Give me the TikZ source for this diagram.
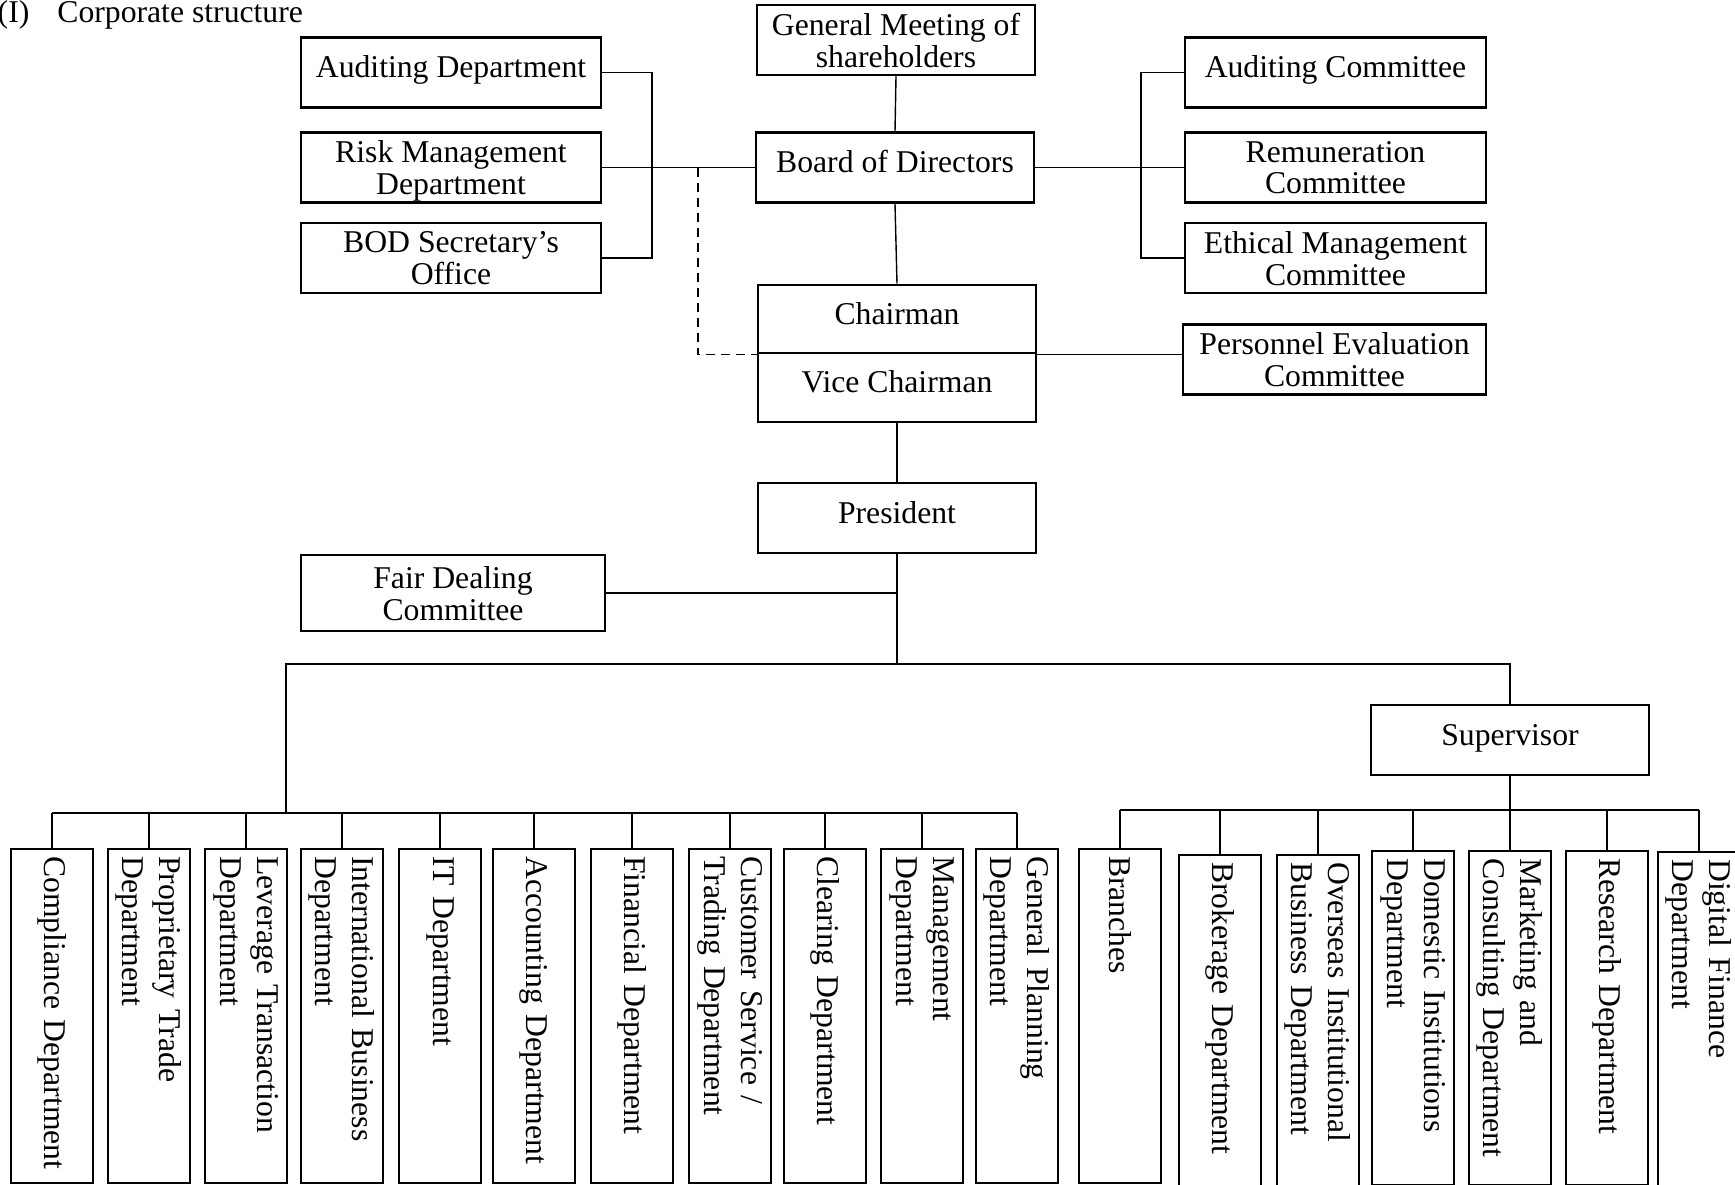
\documentclass[tikz,border=0pt]{standalone}
\usepackage{fontspec}
\setmainfont{Liberation Serif}
\usepackage{tikz}
\usetikzlibrary{positioning}

\newcommand{\orgfont}{\fontsize{31.7}{32}\selectfont}
\newcommand{\deptfont}{\fontsize{31.7}{37}\selectfont}

\begin{document}
\begin{tikzpicture}[
  x=1pt, y=-1pt,
  line width=1.4pt,
  cell/.style={draw, line width=2.4pt, align=center, font=\orgfont,
    inner xsep=6pt, inner ysep=2pt, minimum height=70pt},
  oneline/.style={cell, text height=22pt, text depth=11.5pt},
  twoline/.style={cell, text depth=0pt},
  mid/.style={minimum width=278pt},
  side/.style={minimum width=300pt},
  dept/.style={draw, line width=2.4pt, rotate=-90, anchor=west,
    font=\deptfont, minimum width=334pt, minimum height=82pt,
    text width=320pt, align=left, inner xsep=7pt, inner ysep=2pt}
]
\path[use as bounding box, clip] (0,0) rectangle (1735,1184);

% Title
\node[anchor=base west, inner sep=0pt, font=\orgfont] (title) at (-3,22)
  {(I)\hspace{28pt}Corporate structure};

% Main column
\node[twoline, mid] (gm) at (896,40) {General Meeting of\\shareholders};
\node[oneline, mid] (bod) at (895,167.5) {Board of Directors};
\node[oneline, mid, minimum height=68.5pt] (chair) at (897,319) {Chairman};
\node[oneline, mid, minimum height=68.5pt] (vice) at (897,387.5) {Vice Chairman};
\node[oneline, mid] (pres) at (897,518) {President};

% Offices under the board (left)
\node[oneline, side] (audit) at (451,72.5) {Auditing Department};
\node[twoline, side] (risk) at (451,167.5) {Risk Management\\Department};
\node[twoline, side] (secr) at (451,258) {BOD Secretary’s\\Office};

% Committees (right)
\node[oneline, side, minimum width=301pt] (acom) at (1335.5,72.5) {Auditing Committee};
\node[twoline, side, minimum width=301pt] (rcom) at (1335.5,167.5) {Remuneration\\Committee};
\node[twoline, side, minimum width=301pt] (ecom) at (1335.5,258) {Ethical Management\\Committee};
\node[twoline, side, minimum width=303pt] (pcom) at (1334.5,359.5) {Personnel Evaluation\\Committee};

% Under the president
\node[twoline, side, minimum width=304pt, minimum height=76pt] (fair) at (453,593) {Fair Dealing\\Committee};
\node[oneline, mid] (sup) at (1510,740) {Supervisor};

% Departments under the president
\node[dept] (compl) at (52,848) {Compliance Department};
\node[dept] (prop) at (149,848) {Proprietary Trade\\Department};
\node[dept] (lever) at (246,848) {Leverage Transaction\\Department};
\node[dept] (intl) at (342,848) {International Business\\Department};
\node[dept] (it) at (440,848) {IT Department};
\node[dept] (acct) at (534,848) {Accounting Department};
\node[dept] (fin) at (632,848) {Financial Department};
\node[dept] (cust) at (730,848) {Customer Service /\\Trading Department};
\node[dept] (clear) at (825,848) {Clearing Department};
\node[dept] (mgmt) at (922,848) {Management\\Department};
\node[dept] (plan) at (1017,848) {General Planning\\Department};

% Departments under the supervisor
\node[dept] (branch) at (1120,848) {Branches};
\node[dept] (broker) at (1220,854) {Brokerage Department};
\node[dept] (overs) at (1318,854) {Overseas Institutional\\Business Department};
\node[dept] (domes) at (1413,850) {Domestic Institutions\\Department};
\node[dept] (mark) at (1510,850) {Marketing and\\Consulting Department};
\node[dept] (resr) at (1607,850) {Research Department};
\node[dept] (digit) at (1699,851) {Digital Finance\\Department};

% Junctions
\coordinate (lb) at (652,167.5);
\coordinate (rb) at (1141,167.5);
\coordinate (dk) at (698,167.5);
\coordinate (hub) at (897,664);
\coordinate (lbus) at (286,813);
\coordinate (rbus) at (1510,810);

% Main column links
\draw (gm.south) -- (bod.north);
\draw (bod.south) -- (chair.north);
\draw (vice.south) -- (pres.north);
\draw (pres.south) -- (hub);

% Board links
\draw (risk.east) -- (bod.west);
\draw (audit.east) -| (lb) |- (secr.east);
\draw (bod.east) -- (rcom.west);
\draw (acom.west) -| (rb) |- (ecom.west);
\draw[dash pattern=on 9pt off 6pt] (dk) |- (chair.south west);
\draw (chair.south east) -- (chair.south east -| pcom.west);

% President links
\draw (fair.east) -- (fair.east -| pres.south);
\draw (hub) -| (sup.north);
\draw (hub) -| (lbus);

% Left bus
\draw (compl.west |- lbus) -- (plan.west |- lbus);
\draw (compl.west) -- (compl.west |- lbus);
\draw (prop.west) -- (prop.west |- lbus);
\draw (lever.west) -- (lever.west |- lbus);
\draw (intl.west) -- (intl.west |- lbus);
\draw (it.west) -- (it.west |- lbus);
\draw (acct.west) -- (acct.west |- lbus);
\draw (fin.west) -- (fin.west |- lbus);
\draw (cust.west) -- (cust.west |- lbus);
\draw (clear.west) -- (clear.west |- lbus);
\draw (mgmt.west) -- (mgmt.west |- lbus);
\draw (plan.west) -- (plan.west |- lbus);

% Right bus
\draw (branch.west |- rbus) -- (digit.west |- rbus);
\draw (sup.south) -- (mark.west);
\draw (branch.west) -- (branch.west |- rbus);
\draw (broker.west) -- (broker.west |- rbus);
\draw (overs.west) -- (overs.west |- rbus);
\draw (domes.west) -- (domes.west |- rbus);
\draw (resr.west) -- (resr.west |- rbus);
\draw (digit.west) -- (digit.west |- rbus);

\end{tikzpicture}
\end{document}
